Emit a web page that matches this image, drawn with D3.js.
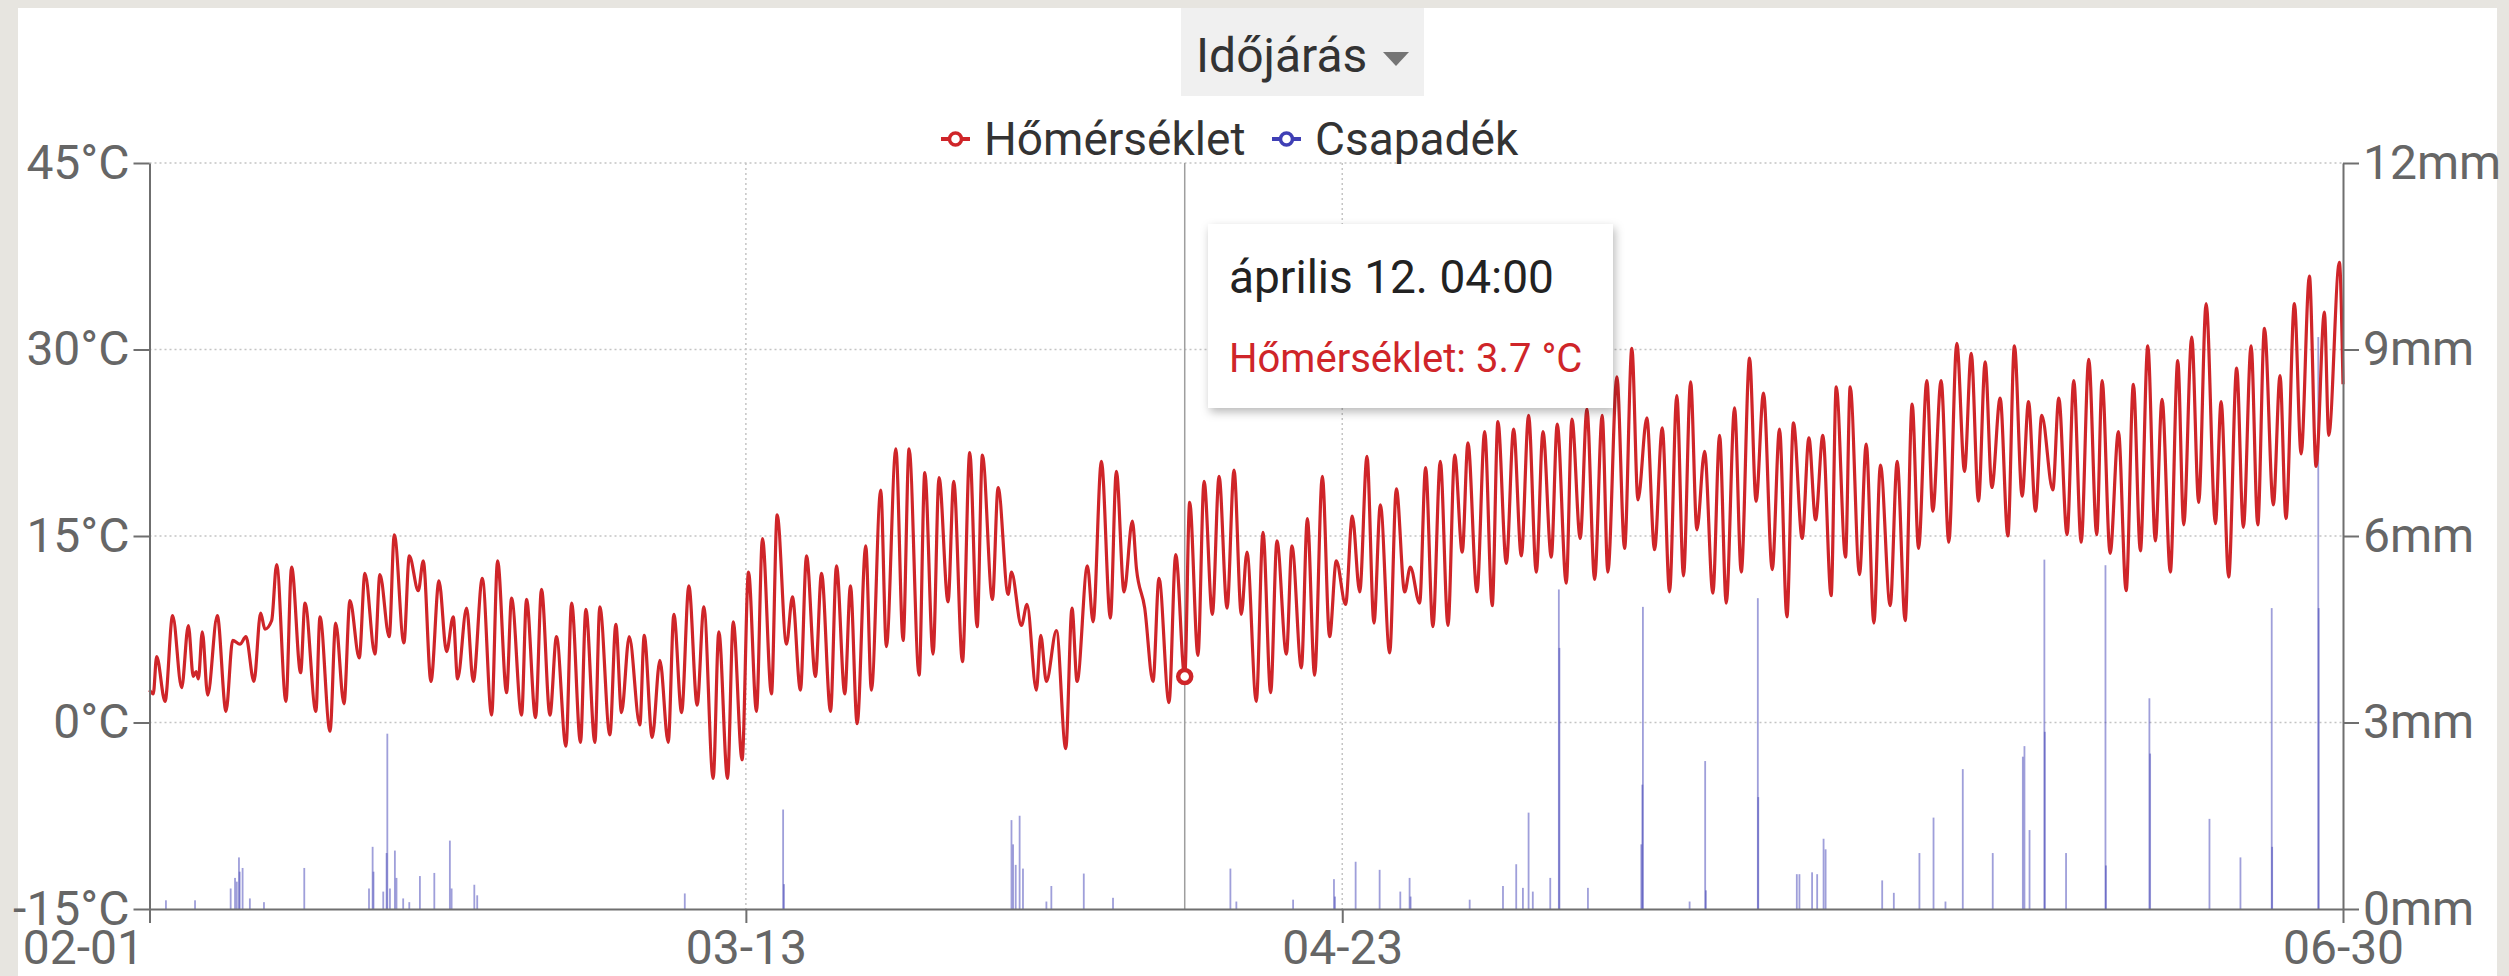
<!DOCTYPE html>
<html>
<head>
<meta charset="utf-8">
<script src="https://cdn.jsdelivr.net/npm/d3@7/dist/d3.min.js"></script>
<style>
  html, body { margin: 0; padding: 0; background: #e7e5e0; }
  svg { display: block; font-family: Roboto, "Noto Sans", sans-serif; }
</style>
</head>
<body>
<svg id="chart"></svg>
<script>
// time values are days since 02-01 00:00 (daily highs and lows)
const tempFeb = [[0.0,2.6],[0.26,2.3],[0.49,5.3],[1.07,1.7],[1.59,8.6],[2.21,2.8],[2.67,7.8],[3.01,3.7],[3.2,4.1],[3.36,3.5],[3.63,7.3],[4.0,2.2],[4.66,8.6],[5.26,0.9],[5.72,6.6],[6.22,6.3],[6.63,6.9],[7.18,3.3],[7.64,8.8],[7.94,7.5],[8.4,8.2],[8.74,12.7],[9.38,1.7],[9.77,12.5],[10.39,4.0],[10.69,9.6],[11.44,0.9],[11.72,8.5],[12.41,-0.7],[12.8,8.0],[13.37,1.5],[13.78,9.8],[14.42,5.2],[14.81,12.0],[15.5,5.5],[15.84,11.9],[16.48,6.9],[16.83,15.1],[17.49,6.4],[17.86,13.4],[18.48,10.6],[18.82,13.0],[19.35,3.3],[19.9,11.4],[20.42,5.7],[20.88,8.5],[21.18,3.5],[21.8,9.2],[22.26,3.3],[22.88,11.6],[23.52,0.6],[23.93,13.0],[24.55,2.4],[24.89,10.0],[25.58,0.6],[25.92,9.9],[26.54,0.4],[26.95,10.7],[27.53,0.6],[27.98,6.9],[28.63,-1.9]];
const tempMar = [[29.02,9.6],[29.63,-1.6],[30.0,9.1],[30.62,-1.6],[30.96,9.3],[31.65,-1.0],[32.06,7.9],[32.45,0.8],[32.98,6.9],[33.71,-0.2],[34.01,7.0],[34.56,-1.2],[35.09,5.0],[35.66,-1.6],[36.05,8.7],[36.58,0.8],[37.08,11.0],[37.65,1.4],[38.11,9.3],[38.75,-4.5],[39.14,7.3],[39.74,-4.5],[40.13,8.1],[40.74,-3.0],[41.18,12.1],[41.73,0.9],[42.14,14.8],[42.76,2.3],[43.15,16.7],[43.79,6.3],[44.2,10.1],[44.75,2.6],[45.17,13.4],[45.78,3.7],[46.2,12.0],[46.82,0.9],[47.23,12.6],[47.8,2.3],[48.19,11.0],[48.65,-0.1],[49.24,14.2],[49.63,2.6],[50.27,18.7],[50.66,6.1],[51.31,22.0],[51.81,6.6],[52.22,22.0],[52.91,3.8],[53.3,20.1],[53.87,5.5],[54.28,19.7],[54.9,9.7],[55.29,19.4],[55.89,4.9],[56.39,21.7],[56.9,7.7],[57.26,21.5],[57.95,9.9],[58.34,18.9],[59.03,10.3],[59.26,12.1],[59.94,7.8]];
const tempApr = [[60.33,9.5],[60.97,2.6],[61.27,7.0],[61.66,3.3],[62.35,7.4],[62.99,-2.1],[63.42,9.2],[63.77,3.3],[64.48,12.6],[64.87,8.1],[65.44,21.0],[66.06,8.4],[66.47,20.2],[67.0,10.5],[67.57,16.2],[67.85,12.4],[68.42,9.2],[68.99,3.3],[69.4,11.6],[70.09,1.6],[70.55,13.5],[71.17,3.7],[71.51,17.7],[72.08,5.4],[72.5,19.4],[73.07,8.7],[73.53,19.8],[74.08,9.2],[74.56,20.3],[75.06,8.7],[75.45,13.7],[76.09,1.7],[76.55,15.3],[77.08,2.4],[77.51,14.6],[78.16,5.5],[78.54,14.2],[79.19,4.4],[79.6,16.4],[80.1,3.8],[80.63,19.8],[81.13,6.9],[81.59,13.0],[82.23,9.5],[82.69,16.6],[83.2,10.5],[83.7,21.4],[84.18,8.0],[84.62,17.5],[85.26,5.6],[85.72,18.8],[86.29,10.5],[86.68,12.5],[87.32,9.6],[87.73,20.5],[88.23,7.7],[88.74,21.0],[89.27,7.8],[89.73,21.5]];
const tempMay = [[90.25,13.7],[90.64,22.5],[91.26,10.5],[91.79,23.4],[92.31,9.4],[92.7,24.2],[93.28,12.8],[93.78,23.6],[94.31,13.4],[94.81,24.7],[95.34,12.1],[95.8,23.4],[96.37,13.3],[96.78,24.0],[97.4,11.2],[97.79,24.4],[98.36,14.8],[98.82,25.2],[99.35,11.5],[99.87,24.7],[100.26,12.1],[100.88,27.8],[101.41,14.0],[101.91,30.1],[102.33,17.9],[102.94,24.5],[103.47,13.9],[104.0,23.7],[104.5,10.5],[105.0,26.3],[105.46,11.8],[105.95,27.4],[106.38,15.5],[106.91,21.8],[107.48,10.4],[107.94,23.1],[108.4,9.6],[108.97,25.3],[109.43,12.1],[110.0,29.3],[110.45,17.8],[110.96,26.5],[111.56,12.3],[112.06,23.6],[112.57,8.5],[113.02,24.1],[113.62,14.8],[114.08,22.9],[114.54,16.3],[115.04,23.1],[115.61,10.2],[115.96,27.0],[116.6,13.3],[116.92,27.0],[117.56,11.9],[118.02,22.4],[118.55,8.0],[119.0,20.7],[119.67,9.4],[120.15,21.0],[120.7,8.2]];
const tempJun = [[121.18,25.6],[121.62,14.0],[122.19,27.5],[122.6,17.0],[123.17,27.5],[123.7,14.5],[124.25,30.5],[124.78,20.2],[125.24,29.7],[125.74,17.8],[126.2,29.0],[126.66,18.9],[127.23,26.1],[127.76,15.0],[128.21,30.3],[128.74,18.2],[129.18,25.8],[129.66,17.0],[130.09,24.7],[130.85,18.7],[131.26,26.1],[131.83,15.1],[132.29,27.5],[132.8,14.5],[133.32,29.2],[133.87,15.1],[134.24,27.5],[134.79,13.6],[135.36,23.4],[135.89,10.6],[136.39,27.2],[136.87,13.8],[137.38,30.3],[137.9,14.6],[138.36,26.0],[138.93,12.1],[139.44,29.1],[139.85,15.9],[140.4,31.0],[140.88,17.7],[141.39,33.7],[142.03,16.0],[142.42,25.8],[142.94,11.7],[143.49,28.5],[143.95,15.7],[144.48,30.3],[144.94,15.9],[145.4,31.7],[146.01,17.5],[146.47,27.9],[146.88,16.4],[147.46,33.7],[147.92,21.6],[148.49,35.9],[148.95,20.6],[149.52,33.0],[149.82,23.1],[150.55,37.0],[150.8,27.2]];

// hourly rain, only the hours that are above zero
const rainFeb = [[1.13,0.14],[3.13,0.14],[5.58,0.33],[5.88,0.5],[6.0,0.44],[6.15,0.83],[6.2,0.6],[6.4,0.66],[6.9,0.17],[7.87,0.11],[10.64,0.66],[15.09,0.33],[15.34,1.0],[15.4,0.6],[16.07,0.28],[16.3,0.9],[16.35,2.82],[16.53,0.33],[16.87,0.94],[16.98,0.5],[17.44,0.17],[17.86,0.11],[18.59,0.53],[19.58,0.58],[20.65,1.1],[20.77,0.33],[22.33,0.39],[22.53,0.22]];
const rainMar = [[36.8,0.25],[43.56,1.6],[43.62,0.4],[59.26,1.43],[59.37,1.04],[59.55,0.71],[59.82,1.5]];
const rainApr = [[60.05,0.65],[61.66,0.12],[62.0,0.37],[64.23,0.57],[66.24,0.18],[74.31,0.65],[74.72,0.12],[78.62,0.15],[81.43,0.48],[81.5,0.2],[82.92,0.76],[84.57,0.63],[85.99,0.28],[86.63,0.5],[86.7,0.2]];
const rainMay = [[90.76,0.15],[93.05,0.37],[93.96,0.72],[94.42,0.34],[94.81,1.55],[95.1,0.28],[96.3,0.5],[96.89,5.14],[96.93,4.2],[98.89,0.34],[102.56,1.04],[102.63,2.0],[102.67,4.86],[105.88,0.12],[106.95,2.38],[107.0,0.3],[110.57,5.0],[110.6,1.8],[113.25,0.56],[113.43,0.56],[114.3,0.59],[114.65,0.56],[115.09,1.13],[115.23,0.96],[119.12,0.46],[119.92,0.26]];
const rainJun = [[121.68,0.9],[122.65,1.47],[123.47,0.12],[124.66,2.25],[126.72,0.9],[128.79,2.45],[128.9,2.62],[129.25,1.27],[130.27,5.62],[130.3,2.85],[131.76,0.9],[134.47,5.53],[134.5,0.7],[137.49,3.39],[137.54,2.5],[141.62,1.45],[143.75,0.83],[145.9,4.84],[145.93,1.0],[149.1,9.2],[149.13,4.84]];

const xTickDays = [0, 41, 82, 150.8];
const xTickLabels = ["02-01", "03-13", "04-23", "06-30"];
const tempTicks = [-15, 0, 15, 30, 45];
const rainTicks = [0, 3, 6, 9, 12];
const seriesNames = ["Hőmérséklet", "Csapadék"];
const seriesColors = ["#cf2529", "#3f3fb5"];

// the hovered point
const tipDay = 71.17;
const tipTemp = 3.7;
const tipTitle = "április 12. 04:00";

const W = 2509, H = 976;
const margin = { left: 149.5, right: 2343, top: 163, bottom: 909 };

const svg = d3.select("#chart").attr("width", W).attr("height", H);

// page backdrop and white card
svg.append("rect").attr("width", W).attr("height", H).attr("fill", "#e7e5e0");
svg.append("rect").attr("x", 18).attr("y", 8).attr("width", 2479).attr("height", H - 8).attr("fill", "#ffffff");

const defs = svg.append("defs");
const shadow = defs.append("filter").attr("id", "shadow").attr("x", "-10%").attr("y", "-10%").attr("width", "125%").attr("height", "130%");
shadow.append("feDropShadow").attr("dx", 2).attr("dy", 4).attr("stdDeviation", 5).attr("flood-color", "#000").attr("flood-opacity", 0.28);

const temps = tempFeb.concat(tempMar, tempApr, tempMay, tempJun);
const rain = rainFeb.concat(rainMar, rainApr, rainMay, rainJun);

const x = d3.scaleLinear().domain([0, xTickDays[xTickDays.length - 1]]).range([margin.left, margin.right]);
const yT = d3.scaleLinear().domain([-15, 45]).range([margin.bottom, margin.top]);
const yR = d3.scaleLinear().domain([0, 12]).range([margin.bottom, margin.top]);

// grid
const grid = svg.append("g").attr("stroke", "#c4c4c4").attr("stroke-width", 1.5).attr("stroke-dasharray", "2,3");
grid.selectAll("line.h").data(tempTicks.filter(t => t > -15)).enter().append("line")
    .attr("x1", margin.left).attr("x2", margin.right)
    .attr("y1", d => yT(d)).attr("y2", d => yT(d));
grid.selectAll("line.v").data(xTickDays.slice(1, -1)).enter().append("line")
    .attr("x1", d => x(d)).attr("x2", d => x(d))
    .attr("y1", margin.top).attr("y2", margin.bottom);

// rain bars
svg.append("g").selectAll("rect").data(rain).enter().append("rect")
    .attr("x", d => x(d[0]) - 0.9)
    .attr("width", 1.8)
    .attr("y", d => yR(d[1]))
    .attr("height", d => yR(0) - yR(d[1]))
    .attr("fill", seriesColors[1])
    .attr("fill-opacity", 0.5);

// crosshair
svg.append("line")
    .attr("x1", x(tipDay)).attr("x2", x(tipDay))
    .attr("y1", margin.top).attr("y2", margin.bottom)
    .attr("stroke", "#9e9e9e").attr("stroke-width", 1.5);

// temperature line
const line = d3.line().x(d => x(d[0])).y(d => yT(d[1])).curve(d3.curveMonotoneX);
svg.append("path").datum(temps)
    .attr("d", line)
    .attr("fill", "none")
    .attr("stroke", seriesColors[0])
    .attr("stroke-width", 3.2)
    .attr("stroke-linejoin", "round");

// axes
const styleAxis = g => {
    g.select(".domain").attr("stroke", "#6f6f6f").attr("stroke-width", 2);
    g.selectAll(".tick line").attr("stroke", "#6f6f6f").attr("stroke-width", 2);
    g.selectAll(".tick text").attr("fill", "#666").style("font-size", "48px").style("font-family", "Roboto");
};

svg.append("g").attr("transform", `translate(${margin.left},0)`)
    .call(d3.axisLeft(yT).tickValues(tempTicks).tickFormat(d => d + "°C").tickSize(16).tickSizeOuter(0).tickPadding(4))
    .call(styleAxis);

svg.append("g").attr("transform", `translate(${margin.right},0)`)
    .call(d3.axisRight(yR).tickValues(rainTicks).tickFormat(d => d + "mm").tickSize(16).tickSizeOuter(0).tickPadding(4))
    .call(styleAxis);

const xAxis = svg.append("g").attr("transform", `translate(0,${margin.bottom})`)
    .call(d3.axisBottom(x).tickValues(xTickDays).tickFormat((d, i) => xTickLabels[i]).tickSize(14).tickSizeOuter(0).tickPadding(5))
    .call(styleAxis);
xAxis.selectAll(".tick text").attr("dy", "0.76em");
// first label sits left of its tick
xAxis.select(".tick text").attr("text-anchor", "end").attr("x", -6);

// hovered point marker
svg.append("circle")
    .attr("cx", x(tipDay)).attr("cy", yT(tipTemp)).attr("r", 6.5)
    .attr("fill", "#fff").attr("stroke", seriesColors[0]).attr("stroke-width", 4.5);

// title with dropdown
svg.append("rect").attr("x", 1181).attr("y", 8).attr("width", 243).attr("height", 88).attr("fill", "#f0f0f0");
svg.append("text").attr("x", 1196).attr("y", 72).text("Időjárás")
    .style("font-size", "48px").attr("fill", "#333");
svg.append("path").attr("d", "M1383,52 L1409,52 L1396,66 Z").attr("fill", "#757575");

// legend
const legend = svg.append("g");
const legendX = [941, 1272];
seriesNames.forEach((name, i) => {
    const g = legend.append("g").attr("transform", `translate(${legendX[i]},139)`);
    g.append("line").attr("x1", 0).attr("x2", 29).attr("stroke", seriesColors[i]).attr("stroke-width", 4);
    g.append("circle").attr("cx", 14.5).attr("r", 6).attr("fill", "#fff").attr("stroke", seriesColors[i]).attr("stroke-width", 3.5);
    g.append("text").attr("x", 43).attr("y", 16).text(name)
        .style("font-size", "46px").attr("fill", "#333");
});

// tooltip box
const tip = svg.append("g");
tip.append("rect").attr("x", 1208).attr("y", 224).attr("width", 405).attr("height", 184)
    .attr("fill", "#fff").attr("filter", "url(#shadow)");
tip.append("text").attr("x", 1229).attr("y", 293).text(tipTitle)
    .style("font-size", "46px").attr("fill", "#222");
tip.append("text").attr("x", 1229).attr("y", 372).text(`${seriesNames[0]}: ${tipTemp} °C`)
    .style("font-size", "40px").attr("fill", seriesColors[0]);
</script>
</body>
</html>
